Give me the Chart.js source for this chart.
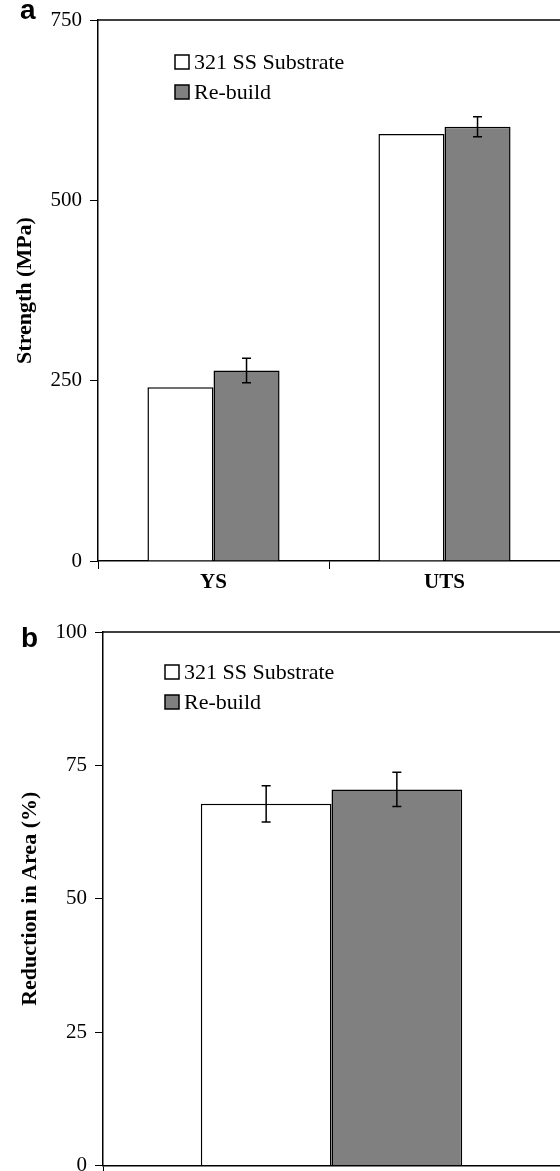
<!DOCTYPE html>
<html>
<head>
<meta charset="utf-8">
<script src="https://cdn.jsdelivr.net/npm/chart.js@4"></script>
<style>
  body { margin: 0; background: #fff; width: 560px; height: 1171px; position: relative; overflow: hidden; }
  .box { position: absolute; left: 0; width: 560px; }
  .panel { position: absolute; font-family: "Liberation Sans", Arial, sans-serif; font-weight: bold; color: #000; }
</style>
</head>
<body>
<div class="box" style="top:0;height:605px"><canvas id="chartA" width="560" height="605"></canvas></div>
<div class="box" style="top:605px;height:566px"><canvas id="chartB" width="560" height="566"></canvas></div>
<div class="panel" style="left:20px;top:-6px;font-size:28px">a</div>
<div class="panel" style="left:21px;top:622px;font-size:28px">b</div>
<script>
// Panel a: strength
const categoriesA = ["YS", "UTS"];
const substrateA = [241, 592];
const rebuildA = [264, 602];
const rebuildErrA = [17, 14];
const yTicksA = [0, 250, 500, 750];

// Panel b: reduction in area
const categoriesB = [""];
const substrateB = [67.8];
const substrateErrB = [3.4];
const rebuildB = [70.5];
const rebuildErrB = [3.2];
const yTicksB = [0, 25, 50, 75, 100];

const serif = "'Liberation Serif', 'Times New Roman', serif";

// error bars, top frame line and in-plot legend
const extras = {
  id: "extras",
  afterDatasetsDraw(chart, args, opts) {
    const ctx = chart.ctx;
    const area = chart.chartArea;
    const y = chart.scales.y;
    ctx.save();
    ctx.strokeStyle = "#000";
    ctx.lineWidth = 1.5;
    // top frame
    ctx.beginPath();
    ctx.moveTo(area.left, area.top);
    ctx.lineTo(area.right, area.top);
    ctx.stroke();
    // error bars
    chart.data.datasets.forEach((ds, i) => {
      if (!ds.errors) return;
      chart.getDatasetMeta(i).data.forEach((bar, j) => {
        const v = ds.data[j], e = ds.errors[j];
        const y1 = y.getPixelForValue(v + e), y2 = y.getPixelForValue(v - e);
        ctx.beginPath();
        ctx.moveTo(bar.x, y1); ctx.lineTo(bar.x, y2);
        ctx.moveTo(bar.x - 4.5, y1); ctx.lineTo(bar.x + 4.5, y1);
        ctx.moveTo(bar.x - 4.5, y2); ctx.lineTo(bar.x + 4.5, y2);
        ctx.stroke();
      });
    });
    // legend
    ctx.font = "22px " + serif;
    ctx.textBaseline = "middle";
    ctx.fillStyle = "#000";
    chart.data.datasets.forEach((ds, i) => {
      const bx = area.left + opts.x;
      const by = area.top + opts.y + i * 30;
      ctx.fillStyle = ds.backgroundColor;
      ctx.fillRect(bx, by - 7, 14, 14);
      ctx.strokeRect(bx, by - 7, 14, 14);
      ctx.fillStyle = "#000";
      ctx.fillText(ds.label, bx + 19, by + 1);
    });
    ctx.restore();
  }
};

function makeChart(id, labels, sets, ticks, title, axisW, axisH, padTop, titlePad, legendPos, showX) {
  return new Chart(document.getElementById(id), {
    type: "bar",
    data: { labels: labels, datasets: sets },
    options: {
      responsive: false,
      animation: false,
      layout: { padding: { top: padTop, left: 0, right: 0, bottom: 0 } },
      datasets: { bar: { categoryPercentage: 0.572, barPercentage: 1, borderWidth: 1.5, borderColor: "#000", borderSkipped: "start" } },
      plugins: { legend: { display: false }, tooltip: { enabled: false }, extras: legendPos },
      scales: {
        x: {
          grid: { display: true, offset: true, drawOnChartArea: false, drawTicks: true, tickLength: 8, color: "#000", lineWidth: 1 },
          border: { display: true, color: "#000", width: 1.5 },
          ticks: { display: showX, color: "#000", padding: 1, font: { family: serif, size: 21, weight: "bold" } },
          afterFit(s) { s.height = axisH; s.paddingLeft = 0; s.paddingRight = 0; }
        },
        y: {
          min: ticks[0], max: ticks[ticks.length - 1],
          afterBuildTicks(s) { s.ticks = ticks.map(v => ({ value: v })); },
          grid: { display: true, drawOnChartArea: false, drawTicks: true, tickLength: 8, color: "#000", lineWidth: 1 },
          border: { display: true, color: "#000", width: 1.5 },
          ticks: { color: "#000", padding: 8, font: { family: serif, size: 21 } },
          title: { display: true, text: title, color: "#000", padding: { top: titlePad, bottom: 0 }, font: { family: serif, size: 22, weight: "bold" } },
          afterFit(s) { s.width = axisW; s.paddingTop = 0; s.paddingBottom = 0; }
        }
      }
    },
    plugins: [extras]
  });
}

makeChart("chartA", categoriesA, [
  { label: "321 SS Substrate", data: substrateA, backgroundColor: "#ffffff" },
  { label: "Re-build", data: rebuildA, errors: rebuildErrA, backgroundColor: "#808080" }
], yTicksA, "Strength (MPa)", 98, 44, 20, 12, { x: 77, y: 42 }, true);

makeChart("chartB", categoriesB, [
  { label: "321 SS Substrate", data: substrateB, errors: substrateErrB, backgroundColor: "#ffffff" },
  { label: "Re-build", data: rebuildB, errors: rebuildErrB, backgroundColor: "#808080" }
], yTicksB, "Reduction in Area (%)", 103, 5.5, 27, 17, { x: 62, y: 40 }, false);
</script>
</body>
</html>
